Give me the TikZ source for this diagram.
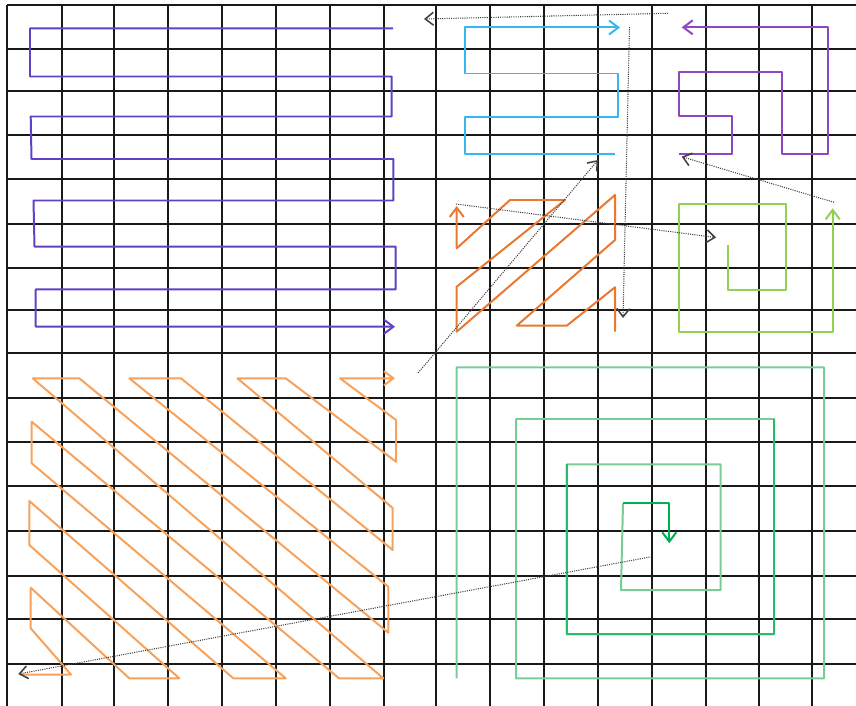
\documentclass[tikz,border=0pt]{standalone}
\usepackage{tikz}
\usetikzlibrary{arrows.meta}
\usepackage{xcolor}
\definecolor{scanIndigo}{RGB}{96,64,198}
\definecolor{scanSky}{RGB}{56,182,240}
\definecolor{scanViolet}{RGB}{140,72,192}
\definecolor{scanOrange}{RGB}{234,120,46}
\definecolor{scanPeach}{RGB}{247,162,92}
\definecolor{scanLime}{RGB}{146,208,80}
\definecolor{scanMint}{RGB}{120,204,150}
\definecolor{scanGreen}{RGB}{0,176,80}

\begin{document}
\begin{tikzpicture}[x=0.3mm, y=-0.3mm,
    gridline/.style={black!90, line width=1.6pt},
    scanline/.style={line width=1.7pt, line join=round,
        -{Straight Barb[length=8pt, width=12pt]}},
    hop/.style={black!75, densely dotted, line width=0.9pt,
        -{Straight Barb[length=7pt, width=11pt, line width=1.3pt]}}]
    \useasboundingbox (0,0) rectangle (856,706);

    % grid
    \foreach \gx in {7.3,61.7,114.3,168.3,222.3,276,330,384,436,490,544,597.7,651.7,705.7,759.3,812}
        \draw[gridline] (\gx,5) -- (\gx,706);
    \foreach \gy in {5,49,91,135,179,224,268,310,353,398,442,486,531,576,619,664}
        \draw[gridline] (7.3,\gy) -- (856,\gy);

    % top left serpentine
    \draw[scanline, scanIndigo] (393,28.3) -- (30,28.3) -- (30,76.5) -- (391.7,76.5)
        -- (391.7,116.5) -- (30.7,116.5) -- (31.5,159) -- (393.3,159) -- (393.3,200.5)
        -- (33.5,200.5) -- (34.5,246.7) -- (395.7,246.7) -- (395.7,289.3) -- (35.7,289.3)
        -- (35.7,326.7) -- (395,326.7);

    % top middle serpentine
    \draw[scanline, scanSky] (615,154) -- (465,154) -- (465,117) -- (618,117)
        -- (618,73.5) -- (465,73.5) -- (465,27.5) -- (620,27.5);

    % top right meander
    \draw[scanline, scanViolet] (679,154) -- (732,154) -- (732,116) -- (679,116)
        -- (679,72.3) -- (782,72.3) -- (782,154) -- (828.3,154) -- (828.3,27.3)
        -- (681.7,27.3);

    % middle zigzag
    \draw[scanline, scanOrange] (615,331.7) -- (615,287.3) -- (566.7,325.7) -- (516.7,325.7)
        -- (615,240) -- (615,195) -- (456.7,331.7) -- (456.7,286.7) -- (565,200)
        -- (510,200) -- (456.7,248.3) -- (456.7,206);

    % small spiral
    \draw[scanline, scanLime] (727.7,245) -- (727.7,290) -- (786,290) -- (786,204.3)
        -- (679,204.3) -- (679,332.3) -- (832.7,332.3) -- (832.7,208.3);

    % bottom left diagonal zigzag
    \draw[scanline, scanPeach] (20,674.5) -- (71,674.5) -- (30.7,628.3) -- (30.7,587.7)
        -- (129.3,678.3) -- (179.3,678.3) -- (29.3,545) -- (29.3,501) -- (233.3,678.3)
        -- (285.7,678.3) -- (31.7,463.3) -- (31.7,421.7) -- (339,678.3) -- (383.3,678.3)
        -- (32.7,378.3) -- (79.3,378.3) -- (388.3,632.7) -- (388.3,586.7) -- (129.3,378.3)
        -- (181,378.3) -- (392.7,550) -- (392.7,508) -- (237.3,378.3) -- (285.7,378.3)
        -- (396,461.7) -- (396,420) -- (340,378.3) -- (395,378.3);

    % bottom right spiral
    \draw[line width=1.7pt, line join=round, scanMint] (456.7,678.3) -- (456.7,367.3)
        -- (824,367.3) -- (824,678.3) -- (516,678.3) -- (516,419) -- (774,419)
        -- (774,634.3) -- (566.7,634.3) -- (566.7,464.3) -- (720.7,464.3) -- (720.7,590)
        -- (621,590) -- (623,503.3);
    \draw[line width=1.7pt, line join=round, scanGreen!85] (774,419) -- (774,634.3)
        -- (566.7,634.3) -- (566.7,464.3);
    \draw[scanline, scanGreen] (623,503.3) -- (669.3,503.3) -- (669.3,543.3);

    % hops between the scans
    \coordinate (violetEnd) at (668,13.3);
    \coordinate (indigoStart) at (424,19);
    \coordinate (skyEnd) at (629.5,27);
    \coordinate (orangeStart) at (623,318);
    \coordinate (limeEnd) at (834,202.3);
    \coordinate (violetStart) at (681.7,156.7);
    \coordinate (orangeEnd) at (456,204);
    \coordinate (limeStart) at (716,237.5);
    \coordinate (peachEnd) at (418,373);
    \coordinate (skyStart) at (598,160);
    \coordinate (greenEnd) at (651.7,556.7);
    \coordinate (peachStart) at (18.3,674);

    \draw[hop] (violetEnd) -- (indigoStart);
    \draw[hop] (skyEnd) -- (orangeStart);
    \draw[hop] (limeEnd) -- (violetStart);
    \draw[hop] (orangeEnd) -- (limeStart);
    \draw[hop] (peachEnd) -- (skyStart);
    \draw[hop] (greenEnd) -- (peachStart);
\end{tikzpicture}
\end{document}
